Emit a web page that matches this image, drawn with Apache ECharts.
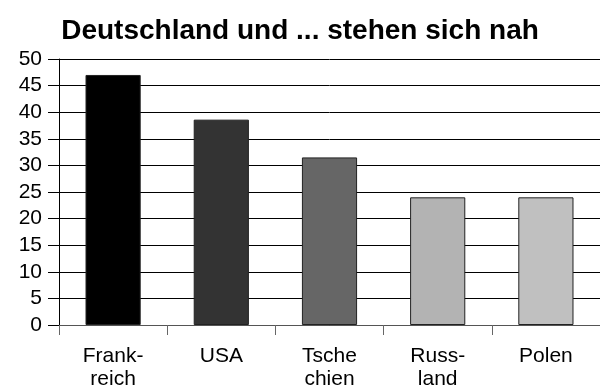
<!DOCTYPE html>
<html>
<head>
<meta charset="utf-8">
<script src="https://cdn.jsdelivr.net/npm/echarts@6/dist/echarts.min.js"></script>
<style>
html,body{margin:0;padding:0;background:#fff;}
#chart{width:600px;height:391px;}
</style>
</head>
<body>
<div id="chart"></div>
<script>
// Länder und Werte
const categories = ['Frank-\nreich', 'USA', 'Tsche\nchien', 'Russ-\nland', 'Polen'];
const values = [47.0, 38.6, 31.5, 24.0, 24.0];
const barColors = ['#000000', '#333333', '#666666', '#b3b3b3', '#c0c0c0'];
const yTicks = [0, 5, 10, 15, 20, 25, 30, 35, 40, 45, 50];

const chart = echarts.init(document.getElementById('chart'), null, { renderer: 'canvas' });
chart.setOption({
  backgroundColor: '#ffffff',
  animation: false,
  title: {
    text: 'Deutschland und ... stehen sich nah',
    left: 'center',
    top: 12,
    textStyle: { fontFamily: 'Liberation Sans, Arial, sans-serif', fontWeight: 'bold', fontSize: 28, color: '#000' }
  },
  grid: { left: 59, right: 0, top: 59, bottom: 64 },
  xAxis: {
    type: 'category',
    data: categories,
    axisLine: { lineStyle: { color: '#555', width: 1 } },
    axisTick: { show: true, length: 10, lineStyle: { color: '#666' } },
    axisLabel: {
      color: '#000', fontSize: 21, lineHeight: 23, margin: 20,
      fontFamily: 'Liberation Sans, Arial, sans-serif'
    }
  },
  yAxis: {
    type: 'value',
    min: yTicks[0],
    max: yTicks[yTicks.length - 1],
    interval: 5,
    axisLine: { show: true, lineStyle: { color: '#000', width: 1 } },
    axisTick: { show: true, length: 11, lineStyle: { color: '#000' } },
    splitLine: { show: true, lineStyle: { color: '#000', width: 1 } },
    axisLabel: {
      color: '#000', fontSize: 21, margin: 17,
      fontFamily: 'Liberation Sans, Arial, sans-serif'
    }
  },
  series: [{
    type: 'bar',
    barWidth: '51%',
    data: values.map((v, i) => ({
      value: v,
      itemStyle: { color: barColors[i], borderColor: '#222', borderWidth: 1 }
    }))
  }]
});
</script>
</body>
</html>
